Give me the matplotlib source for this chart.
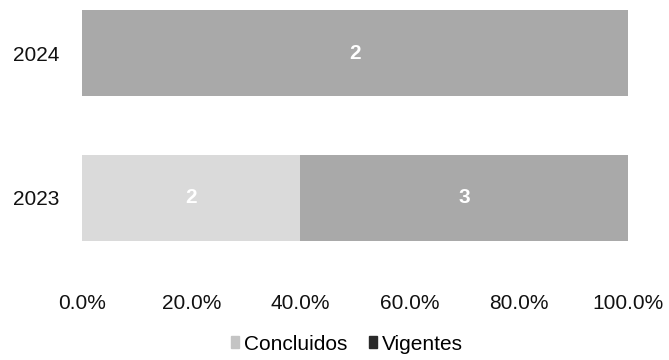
import matplotlib.pyplot as plt
from matplotlib.patches import Patch
from matplotlib.ticker import PercentFormatter

years = ['2023', '2024']
concluidos = [2, 0]
vigentes = [3, 2]
series = ['Concluidos', 'Vigentes']
colors = ['#dadada', '#a9a9a9']
legend_colors = ['#c4c4c4', '#2a2a2a']

plt.rcParams['font.family'] = ['Liberation Sans', 'DejaVu Sans']

totals = [c + v for c, v in zip(concluidos, vigentes)]
pc = [c / t for c, t in zip(concluidos, totals)]
pv = [v / t for v, t in zip(vigentes, totals)]

fig = plt.figure(figsize=(6.69, 3.6), dpi=100)
ax = fig.add_axes([82 / 669, 1 - 270 / 360, (628 - 82) / 669, 270 / 360])

ypos = list(range(len(years)))
b1 = ax.barh(ypos, pc, height=0.59, color=colors[0])
b2 = ax.barh(ypos, pv, left=pc, height=0.59, color=colors[1])

for bars, vals in [(b1, concluidos), (b2, vigentes)]:
    for bar, v in zip(bars, vals):
        if v == 0:
            continue
        ax.text(bar.get_x() + bar.get_width() / 2, bar.get_y() + bar.get_height() / 2,
                str(v), ha='center', va='center', color='white',
                fontsize=15, fontweight='bold')

ax.set_xlim(0, 1)
ax.set_ylim(-0.497, 1.366)
ax.set_yticks(ypos)
ax.set_yticklabels(years)
ax.set_xticks([0, 0.2, 0.4, 0.6, 0.8, 1.0])
ax.xaxis.set_major_formatter(PercentFormatter(1.0, decimals=1))
ax.tick_params(axis='x', length=0, pad=17, labelsize=15, colors='#111111')
ax.tick_params(axis='y', length=0, pad=16, labelsize=15, colors='#111111')
for s in ax.spines.values():
    s.set_visible(False)

handles = [Patch(color=c, label=s) for c, s in zip(legend_colors, series)]
fig.legend(handles=handles, loc='center', bbox_to_anchor=(347 / 669, 1 - 344 / 360), ncol=2,
           frameon=False, fontsize=15, handlelength=0.4, handleheight=0.55,
           handletextpad=0.25, columnspacing=1.0, borderpad=0)

fig.savefig('out.png', dpi=100)
